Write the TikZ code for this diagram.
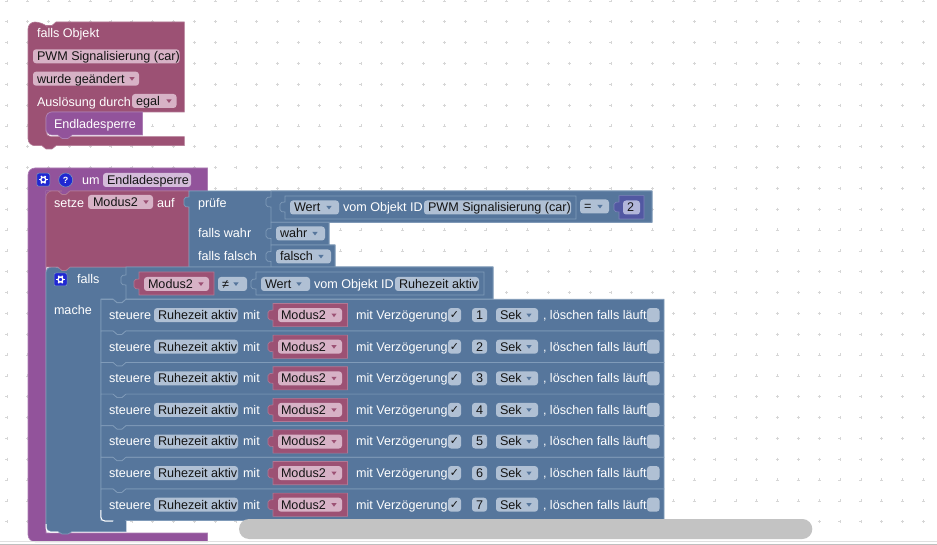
\documentclass[tikz,border=0pt]{standalone}
\usepackage{fontspec}
\setmainfont{Liberation Sans}
\newfontfamily\djv{DejaVu Sans}
\newcounter{nn}
\definecolor{cpink}{RGB}{156,81,116}
\definecolor{cpinkE}{RGB}{178,120,148}
\definecolor{cpinkD}{RGB}{125,65,95}
\definecolor{cpurp}{RGB}{146,83,155}
\definecolor{cblue}{RGB}{86,118,156}
\definecolor{cblueE}{RGB}{128,155,185}
\definecolor{cblueD}{RGB}{70,98,130}
\definecolor{cind}{RGB}{82,88,162}
\definecolor{fpink}{RGB}{215,178,198}
\definecolor{fblue}{RGB}{176,192,212}
\definecolor{fpurp}{RGB}{212,188,218}
\definecolor{find}{RGB}{178,182,218}
\definecolor{ctxt}{RGB}{20,20,20}
\tikzset{
  lbl/.style={anchor=base west,inner sep=0pt,outer sep=0pt,text=white,font=\fontsize{12.6}{14}\selectfont},
  dlbl/.style={lbl,text=ctxt},
  pinkblock/.style={fill=cpink,draw=cpinkE,line width=0.6pt},
  purpblock/.style={fill=cpurp,draw=cpurp!75!white,line width=0.6pt},
  blueblock/.style={fill=cblue,draw=cblueE,line width=0.7pt},
  indblock/.style={fill=cind,draw=cind!75!white,line width=0.6pt},
  sep/.style={draw=cblueE,line width=0.7pt},
  griddot/.style={draw=black!16,line width=0.5pt},
  iconbox/.style={fill={rgb,255:red,32;green,40;blue,210},draw=cblueE,line width=0.5pt,rounded corners=2pt}
}
% text at left x, centre y
\newcommand{\txt}[3]{\stepcounter{nn}\node[lbl] (t\arabic{nn}) at (#1,#2+4.4) {#3};}
% field: fill colour, x1, x2, centre y, text x, text, triangle x (0 = none), triangle colour
\newcommand{\fld}[8]{\fill[#1,rounded corners=3pt] (#2,#4-7) rectangle (#3,#4+7);
  \stepcounter{nn}\node[dlbl] (f\arabic{nn}) at (#5,#4+4.4) {#6};
  \ifnum#7>0 \fill[#8] (#7-2.6,#4-1.5) -- (#7+2.6,#4-1.5) -- (#7,#4+2) -- cycle;\fi}
% value block with left puzzle tab: style, x1, y1, x2, y2, tab centre y
\newcommand{\vb}[6]{\draw[#1] (#2,#3) -- (#4,#3) -- (#4,#5) -- (#2,#5) -- (#2,#6+5) [rounded corners=1.8pt] -- (#2-5,#6+4.5) -- (#2-5,#6-4.5) [sharp corners] -- (#2,#6-5) -- cycle;}
% gear icon
\newcommand{\gear}[2]{\fill[iconbox] (#1-6.5,#2-6.5) rectangle (#1+6.5,#2+6.5);
  \foreach \a in {0,60,...,300}{\draw[white,line width=1.5pt] (#1,#2) ++(\a:2.4) -- ++(\a:1.9);}
  \draw[white,line width=1.3pt] (#1,#2) circle (2.5);}
\begin{document}
\begin{tikzpicture}[x=1pt,y=-1pt]
\useasboundingbox (0,0) rectangle (937,545);
\fill[white] (0,0) rectangle (937,545);
% workspace grid
\foreach \i in {-1,...,43}{\foreach \j in {-1,...,24}{
  \pgfmathsetmacro\gx{27.6+20.83*\i}\pgfmathsetmacro\gy{21.7+20.83*\j}
  \draw[griddot] (\gx-1.5,\gy) -- (\gx+1.5,\gy) (\gx,\gy-1.5) -- (\gx,\gy+1.5);}}
% ---------- object trigger block
\draw[pinkblock] [rounded corners=7pt] (28,50) -- (28,22) -- (42,22) [sharp corners] -- (46,25.5) -- (52,25.5) -- (56,22) -- (184.3,22) -- (184.3,112) [rounded corners=5pt] -- (46,112) -- (46,136.7) [sharp corners] -- (184.3,136.7) -- (184.3,145.7) -- (56,145.7) -- (52,149) -- (46,149) -- (42,145.7) [rounded corners=7pt] -- (28,145.7) -- cycle;
\txt{37}{33}{falls Objekt}
\fld{fpink}{33}{179.5}{56.3}{37}{PWM Signalisierung (car)}{0}{cpink}
\fld{fpink}{33}{139}{78.7}{37}{wurde geändert}{132}{cpink}
\txt{37}{102}{Auslösung durch}
\fld{fpink}{132}{176.5}{101}{136}{egal}{169}{cpink}
\draw[purpblock] [rounded corners=6pt] (46,125) -- (46,112) -- (60,112) [sharp corners] -- (142.5,112) -- (142.5,135) -- (72,135) -- (68,138.5) -- (62,138.5) -- (58,135) [rounded corners=6pt] -- (46,135) -- cycle;
\txt{54}{124}{Endladesperre}
% ---------- function block
\draw[purpblock] [rounded corners=7pt] (28,200) -- (28,168) -- (60,168) [sharp corners] -- (207.5,168) -- (207.5,191) -- (70,191) -- (66,194.5) -- (62,194.5) -- (58,191) -- (46,191) -- (46,533) -- (207.5,533) -- (207.5,541.7) [rounded corners=7pt] -- (28,541.7) -- cycle;
\fill[cpurp] (46,191) rectangle (53,198);
\gear{43.3}{179.7}
\fill[iconbox,rounded corners=0pt] (65.7,180) circle (7);
\node[lbl,anchor=center,font=\bfseries\fontsize{9}{10}\selectfont] (qm) at (65.7,180) {?};
\txt{82}{180}{um}
\fld{fpurp}{103}{191}{180}{107}{Endladesperre}{0}{cpurp}
% ---------- falls block (under setze so that the setze tab shows)
\draw[blueblock] [rounded corners=3pt] (46,267) -- (58,267) [sharp corners] -- (62,270.5) -- (66,270.5) -- (70,267) -- (493,267) -- (493,299) -- (126,299) -- (122,302.5) -- (117,302.5) -- (113,299) -- (101,299) -- (101,520) -- (126,520) -- (126,531.5) -- (72,531.5) -- (68,534) -- (62,534) -- (58,531.5) [rounded corners=5pt] -- (46,531.5) -- cycle;
% ---------- setze block
\draw[pinkblock] [rounded corners=6pt] (46,215) -- (46,191) -- (56,191) [sharp corners] -- (58,191) -- (62,194.5) -- (66,194.5) -- (70,191) -- (189,191) -- (189,267) -- (70,267) -- (66,270.5) -- (62,270.5) -- (58,267) -- (46,267) -- cycle;
\txt{54}{203}{setze}
\fld{fpink}{88}{153}{202}{93}{Modus2}{146}{cpink}
\txt{157}{203}{auf}
% ---------- ternary block
\draw[blueblock] (189,191) -- (652,191) -- (652,222.3) -- (329,222.3) -- (329,245) -- (335,245) -- (335,267) -- (189,267) -- (189,207) [rounded corners=1.8pt] -- (184,206.5) -- (184,197.5) [sharp corners] -- (189,197) -- cycle;
\txt{198}{203}{prüfe}
\txt{198}{233.5}{falls wahr}
\txt{198}{256.5}{falls falsch}
\vb{blueblock}{271}{191}{652}{222.3}{202}
\vb{blueblock}{285}{196}{576}{219}{207}
\fld{fblue}{290}{339}{207.5}{294}{Wert}{329}{cblue}
\txt{343}{207.5}{vom Objekt ID}
\fld{fblue}{424}{571}{207.5}{428}{PWM Signalisierung (car)}{0}{cblue}
\fld{fblue}{580}{609}{206.5}{584}{=}{600}{cblue}
\vb{indblock}{619}{195.7}{644}{219}{207}
\fld{find}{623}{640}{207.5}{627}{2}{0}{cind}
\vb{blueblock}{271}{222.3}{329}{245}{233.5}
\fld{fblue}{276}{325}{233.5}{280}{wahr}{315}{cblue}
\vb{blueblock}{271}{245}{335}{267}{256.5}
\fld{fblue}{276}{331}{256.5}{280}{falsch}{321}{cblue}
% ---------- falls header
\gear{60.5}{279.5}
\txt{77}{279}{falls}
\vb{blueblock}{126}{267}{493}{299}{280}
\vb{pinkblock}{139}{272}{214}{295}{284}
\fld{fpink}{144}{209}{284}{148}{Modus2}{201}{cpink}
\fld{fblue}{218}{247}{284}{222}{≠}{236}{cblue}
\vb{blueblock}{256}{272}{484}{295}{284}
\fld{fblue}{261}{310}{284}{265}{Wert}{299}{cblue}
\txt{314}{284}{vom Objekt ID}
\fld{fblue}{395}{479}{284}{399}{Ruhezeit aktiv}{0}{cblue}
\txt{54}{310}{mache}
% ---------- control rows
\foreach \k/\n in {0/1,1/2,2/3,3/4,4/5,5/6,6/7}{
  \pgfmathsetmacro\T{299.3+31.6*\k}
  \pgfmathsetmacro\B{\T+31.6}
  \pgfmathsetmacro\C{\T+15.8}
  \draw[blueblock] (101,\T) -- (113,\T) -- (117,\T+3.5) -- (122,\T+3.5) -- (126,\T) -- (664,\T) -- (664,\B) -- (126,\B) -- (122,\B+3.5) -- (117,\B+3.5) -- (113,\B) -- (101,\B) -- cycle;
  \txt{109}{\C}{steuere}
  \fld{fblue}{154}{238}{\C}{158}{Ruhezeit aktiv}{0}{cblue}
  \txt{243}{\C}{mit}
  \vb{pinkblock}{273}{\T+4.2}{347.5}{\T+27.4}{\C}
  \fld{fpink}{278}{342}{\C}{281}{Modus2}{334}{cpink}
  \txt{356}{\C}{mit Verzögerung}
  \fill[fblue,rounded corners=3pt] (448,\C-7) rectangle (461,\C+7);
  \stepcounter{nn}\node[dlbl,anchor=center,font=\djv\fontsize{11}{12}\selectfont] (c\arabic{nn}) at (454.5,\C) {✓};
  \fld{fblue}{472}{487}{\C}{476}{\n}{0}{cblue}
  \fld{fblue}{496}{538}{\C}{500}{Sek}{529}{cblue}
  \txt{543}{\C}{, löschen falls läuft}
  \fill[fblue,rounded corners=3pt] (647,\C-7) rectangle (659.5,\C+7);
}
% covering bar of the falls block under the last row
\fill[cblue] (102,520.7) -- (126,520.7) -- (126,531) -- (102,531) -- cycle;
\draw[white,line width=1pt,rounded corners=4pt] (100.8,510) -- (100.8,521) -- (113,521);
\draw[white,line width=1pt,rounded corners=4pt] (46,524) -- (46,532) -- (58,532);
% ---------- scrollbar and window edge
\fill[black!23.5,rounded corners=10pt] (239,519) rectangle (812.3,539);
\fill[black!12] (0,541.3) rectangle (937,542.2);
\fill[black!25] (0,543.8) rectangle (937,544.8);
\end{tikzpicture}
\end{document}
